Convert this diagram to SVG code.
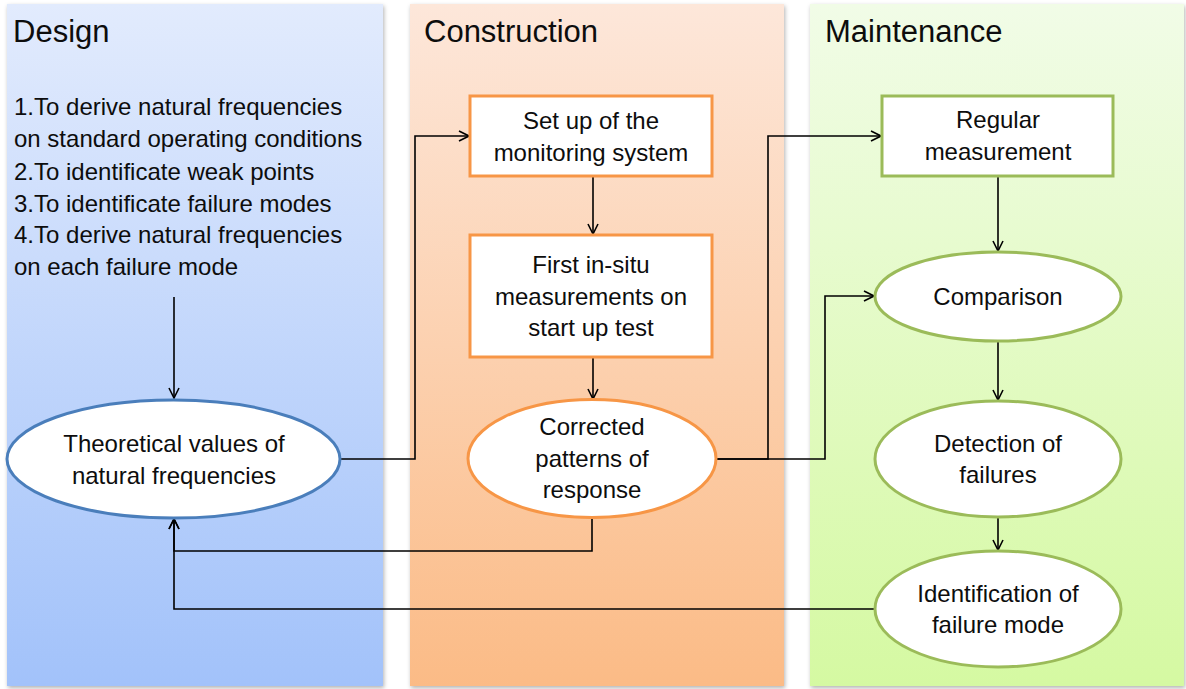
<svg xmlns="http://www.w3.org/2000/svg" width="1186" height="689" viewBox="0 0 1186 689">
  <defs>
    <linearGradient id="gDesign" x1="0" y1="0" x2="0" y2="1">
      <stop offset="0" stop-color="#e2ebfd"/>
      <stop offset="1" stop-color="#a2c2fa"/>
    </linearGradient>
    <linearGradient id="gConstr" x1="0" y1="0" x2="0" y2="1">
      <stop offset="0" stop-color="#fde7da"/>
      <stop offset="1" stop-color="#fbbb86"/>
    </linearGradient>
    <linearGradient id="gMaint" x1="0" y1="0" x2="0" y2="1">
      <stop offset="0" stop-color="#f1fce7"/>
      <stop offset="1" stop-color="#d5f9a2"/>
    </linearGradient>
    <filter id="shadow" x="-5%" y="-5%" width="110%" height="110%">
      <feDropShadow dx="1" dy="2" stdDeviation="2" flood-color="#000" flood-opacity="0.3"/>
    </filter>
    <marker id="arrow" viewBox="0 0 12 12" refX="11" refY="6" markerWidth="12" markerHeight="12" markerUnits="userSpaceOnUse" orient="auto">
      <path d="M1,1 L11,6 L1,11" fill="none" stroke="#000" stroke-width="1.6"/>
    </marker>
  </defs>
  <style>
    text { font-family: "Liberation Sans", Arial, sans-serif; fill: #0d0d0d; }
    .title { font-size: 31px; }
    .list { font-size: 24px; }
    .lbl { font-size: 24px; text-anchor: middle; }
    .conn { fill: none; stroke: #000; stroke-width: 1.6; }
    .blue { fill: #fff; stroke: #4a7ebb; stroke-width: 3; }
    .orange { fill: #fff; stroke: #f79646; stroke-width: 3; }
    .green { fill: #fff; stroke: #9bbb59; stroke-width: 3; }
  </style>

  <!-- phase panels -->
  <g id="panel-design">
    <rect x="7" y="4" width="376" height="682" fill="url(#gDesign)" filter="url(#shadow)"/>
    <text class="title" x="13" y="42">Design</text>
    <text class="list" x="14" y="115">1.To derive natural frequencies</text>
    <text class="list" x="14" y="147">on standard operating conditions</text>
    <text class="list" x="14" y="180">2.To identificate weak points</text>
    <text class="list" x="14" y="212">3.To identificate failure modes</text>
    <text class="list" x="14" y="243">4.To derive natural frequencies</text>
    <text class="list" x="14" y="275">on each failure mode</text>
  </g>
  <g id="panel-construction">
    <rect x="410" y="4" width="374" height="682" fill="url(#gConstr)" filter="url(#shadow)"/>
    <text class="title" x="424" y="42">Construction</text>
  </g>
  <g id="panel-maintenance">
    <rect x="810" y="4" width="374" height="682" fill="url(#gMaint)" filter="url(#shadow)"/>
    <text class="title" x="825" y="42">Maintenance</text>
  </g>

  <!-- connectors -->
  <g id="connectors">
    <path class="conn" d="M174,297 V398" marker-end="url(#arrow)"/>
    <path class="conn" d="M340,459 H415 V136 H469" marker-end="url(#arrow)"/>
    <path class="conn" d="M593,176 V234" marker-end="url(#arrow)"/>
    <path class="conn" d="M593,357 V399" marker-end="url(#arrow)"/>
    <path class="conn" d="M592,517 V551 H174 V519" marker-end="url(#arrow)"/>
    <path class="conn" d="M876,609 H174 V519" marker-end="url(#arrow)"/>
    <path class="conn" d="M715,459 H768 V136 H881" marker-end="url(#arrow)"/>
    <path class="conn" d="M715,459 H825 V296 H874" marker-end="url(#arrow)"/>
    <path class="conn" d="M998,176 V251" marker-end="url(#arrow)"/>
    <path class="conn" d="M998,341 V400" marker-end="url(#arrow)"/>
    <path class="conn" d="M998,517 V550" marker-end="url(#arrow)"/>
  </g>

  <!-- nodes -->
  <g id="theoretical">
    <ellipse class="blue" cx="173.5" cy="459" rx="166.5" ry="59"/>
    <text class="lbl" x="174" y="452">Theoretical values of</text>
    <text class="lbl" x="174" y="484">natural frequencies</text>
  </g>
  <g id="setup">
    <rect class="orange" x="470" y="96" width="242" height="80"/>
    <text class="lbl" x="591" y="129">Set up of the</text>
    <text class="lbl" x="591" y="161">monitoring system</text>
  </g>
  <g id="first-insitu">
    <rect class="orange" x="470" y="235" width="242" height="122"/>
    <text class="lbl" x="591" y="273">First in-situ</text>
    <text class="lbl" x="591" y="305">measurements on</text>
    <text class="lbl" x="591" y="336">start up test</text>
  </g>
  <g id="corrected">
    <ellipse class="orange" cx="592" cy="458.5" rx="124" ry="59"/>
    <text class="lbl" x="592" y="435">Corrected</text>
    <text class="lbl" x="592" y="467">patterns of</text>
    <text class="lbl" x="592" y="498">response</text>
  </g>
  <g id="regular">
    <rect class="green" x="882" y="96" width="231" height="80"/>
    <text class="lbl" x="998" y="128">Regular</text>
    <text class="lbl" x="998" y="160">measurement</text>
  </g>
  <g id="comparison">
    <ellipse class="green" cx="998" cy="296.5" rx="123" ry="44.5"/>
    <text class="lbl" x="998" y="305">Comparison</text>
  </g>
  <g id="detection">
    <ellipse class="green" cx="998" cy="459" rx="123" ry="58"/>
    <text class="lbl" x="998" y="452">Detection of</text>
    <text class="lbl" x="998" y="483">failures</text>
  </g>
  <g id="identification">
    <ellipse class="green" cx="998" cy="609" rx="123" ry="58"/>
    <text class="lbl" x="998" y="602">Identification of</text>
    <text class="lbl" x="998" y="633">failure mode</text>
  </g>
</svg>
